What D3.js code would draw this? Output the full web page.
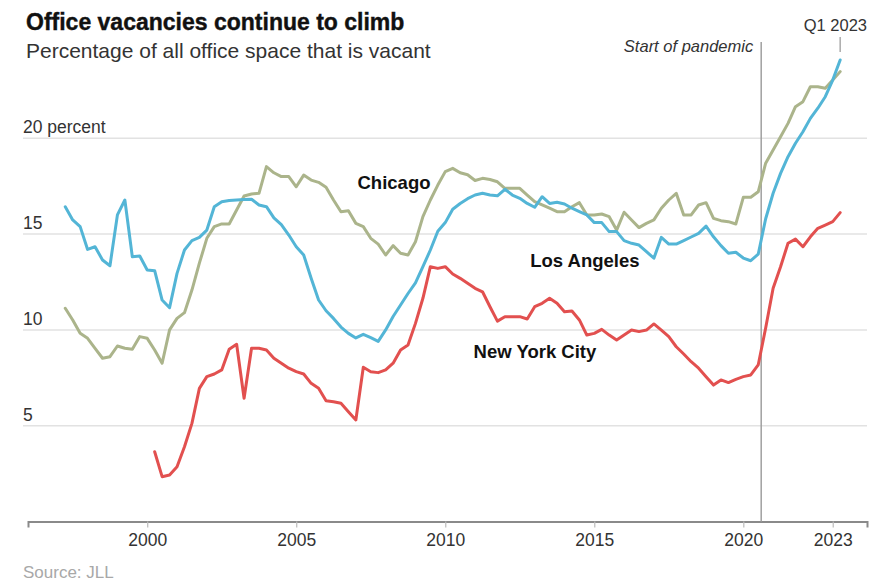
<!DOCTYPE html>
<html>
<head>
  <meta charset="UTF-8">
  <script src="https://cdn.jsdelivr.net/npm/d3@7"></script>
  <style>
    * { box-sizing: border-box; }
    html, body { margin: 0; padding: 0; background: #fff; }
    svg { display: block; font-family: "Liberation Sans", Arial, sans-serif; }
    .grid line { stroke: #e2e2e2; stroke-width: 1.5px; }
    .line { fill: none; stroke-width: 3px; stroke-linejoin: round; stroke-linecap: round; }
  </style>
</head>
<body>
<div id="root"></div>
<script>

  // quarterly vacancy rates, percent
  var startYear = 1997;

  var laVacancy = [
    16.43, 15.74, 15.39, 14.2,   // 1997
    14.34, 13.65, 13.35, 16.0,   // 1998
    16.78, 13.82, 13.86, 13.13,  // 1999
    13.09, 11.56, 11.16, 12.95,  // 2000
    14.17, 14.66, 14.83, 15.21,  // 2001
    16.43, 16.69, 16.75, 16.78,  // 2002
    16.8, 16.82, 16.52, 16.43,   // 2003
    15.85, 15.5, 14.95, 14.34,   // 2004
    13.91, 12.7, 11.56, 11.0,    // 2005
    10.6, 10.15, 9.82, 9.58,     // 2006
    9.77, 9.6, 9.4, 10.0,        // 2007
    10.7, 11.3, 11.9, 12.45,     // 2008
    13.3, 14.17, 15.15, 15.6,    // 2009
    16.3, 16.6, 16.85, 17.04,    // 2010
    17.13, 17.04, 17.0, 17.34,   // 2011
    17.04, 16.87, 16.6, 16.4,    // 2012
    16.95, 16.6, 16.66, 16.57,   // 2013
    16.35, 16.17, 16.0, 15.6,    // 2014
    15.6, 15.13, 15.13, 14.66,   // 2015
    14.52, 14.43, 14.08, 13.74,  // 2016
    14.83, 14.48, 14.48, 14.66,  // 2017
    14.85, 15.04, 15.42, 14.86,  // 2018
    14.4, 14.0, 14.05, 13.75,    // 2019
    13.61, 13.95, 15.8, 17.13,   // 2020
    18.17, 19.04, 19.74, 20.34,  // 2021
    21.04, 21.57, 22.17, 23.04,  // 2022
    24.09                        // 2023 Q1
  ];

  var chicagoVacancy = [
    11.13, 10.52, 9.82, 9.56,    // 1997
    9.04, 8.52, 8.6, 9.16,       // 1998
    9.04, 8.99, 9.65, 9.56,      // 1999
    8.95, 8.26, 10.0, 10.6,      // 2000
    10.9, 12.08, 13.48, 14.78,   // 2001
    15.39, 15.53, 15.53, 16.26,  // 2002
    16.99, 17.09, 17.13, 18.52,  // 2003
    18.2, 18.0, 18.0, 17.47,     // 2004
    18.08, 17.82, 17.7, 17.44,   // 2005
    16.78, 16.17, 16.22, 15.56,  // 2006
    15.39, 14.78, 14.48, 13.91,  // 2007
    14.4, 14.0, 13.91, 14.6,     // 2008
    15.91, 16.78, 17.56, 18.26,  // 2009
    18.43, 18.2, 18.1, 17.8,     // 2010
    17.91, 17.85, 17.73, 17.39,  // 2011
    17.39, 17.39, 17.04, 16.69,  // 2012
    16.52, 16.35, 16.17, 16.17,  // 2013
    16.43, 16.64, 16.0, 16.0,    // 2014
    16.05, 15.91, 15.21, 16.14,  // 2015
    15.74, 15.34, 15.56, 15.74,  // 2016
    16.35, 16.78, 17.13, 16.0,   // 2017
    16.0, 16.52, 16.64, 15.82,   // 2018
    15.7, 15.65, 15.53, 16.92,   // 2019
    16.92, 17.21, 18.7, 19.39,   // 2020
    20.08, 20.78, 21.65, 21.91,  // 2021
    22.69, 22.69, 22.61, 23.04,  // 2022
    23.48                        // 2023 Q1
  ];

  // NYC series starts in 2000 Q1
  var nycStartYear = 2000;
  var nycVacancy = [
    3.64, 2.34, 2.43, 2.86,      // 2000
    3.9, 5.12, 6.95, 7.56,       // 2001
    7.7, 7.91, 8.99, 9.25,       // 2002
    6.43, 9.04, 9.04, 8.95,      // 2003
    8.52, 8.26, 8.0, 7.82,       // 2004
    7.7, 7.21, 6.95, 6.3,        // 2005
    6.25, 6.17, 5.73, 5.3,       // 2006
    8.05, 7.82, 7.77, 7.91,      // 2007
    8.26, 8.95, 9.21, 10.34,     // 2008
    11.65, 13.3, 13.21, 13.3,    // 2009
    12.92, 12.69, 12.43, 12.17,  // 2010
    11.99, 11.21, 10.46, 10.69,  // 2011
    10.69, 10.69, 10.57, 11.21,  // 2012
    11.39, 11.65, 11.39, 10.95,  // 2013
    10.99, 10.52, 9.73, 9.82,    // 2014
    10.03, 9.73, 9.47, 9.73,     // 2015
    9.99, 9.91, 9.99, 10.31,     // 2016
    9.99, 9.65, 9.12, 8.74,      // 2017
    8.34, 8.0, 7.56, 7.12,       // 2018
    7.39, 7.25, 7.42, 7.56,      // 2019
    7.65, 8.17, 10.1, 12.17,     // 2020
    13.3, 14.52, 14.74, 14.34,   // 2021
    14.86, 15.3, 15.47, 15.65,   // 2022
    16.12                        // 2023 Q1
  ];

  var xTicks = [2000, 2005, 2010, 2015, 2020, 2023];
  var yTicks = [5, 10, 15, 20];
  var pandemicStart = 2020.6;
  var lastQuarter = 2023.25;

  var width = 883, height = 587;
  var colors = { la: "#53b5d6", chicago: "#abb48b", nyc: "#e2504f" };

  // turn a list of quarterly values into {t, v} points
  function toPoints(values, firstYear) {
    return values.map(function(v, i) {
      return { t: firstYear + (i + 1) / 4, v: v };
    });
  }

  var x = d3.scaleLinear().domain([1996, 2024.15]).range([28, 867]);
  var y = d3.scaleLinear().domain([0, 20]).range([521.5, 138.3]);

  var line = d3.line()
    .x(function(d) { return x(d.t); })
    .y(function(d) { return y(d.v); });

  var svg = d3.select("#root").append("svg")
    .attr("width", width)
    .attr("height", height);

  // title + subtitle
  svg.append("text")
    .attr("x", 26).attr("y", 30)
    .attr("font-size", 23).attr("font-weight", 700)
    .attr("fill", "#111")
    .attr("stroke", "#111").attr("stroke-width", 0.4)
    .text("Office vacancies continue to climb");
  svg.append("text")
    .attr("x", 26).attr("y", 58)
    .attr("font-size", 21)
    .attr("fill", "#333")
    .text("Percentage of all office space that is vacant");

  // horizontal gridlines with labels sitting on them
  var grid = svg.append("g").attr("class", "grid");
  grid.selectAll("line").data(yTicks).enter().append("line")
    .attr("x1", 23).attr("x2", 867)
    .attr("y1", function(d) { return y(d); })
    .attr("y2", function(d) { return y(d); });
  grid.selectAll("text").data(yTicks).enter().append("text")
    .attr("x", 23)
    .attr("y", function(d) { return y(d) - 5; })
    .attr("font-size", 17.5)
    .attr("fill", "#333")
    .text(function(d) { return d === 20 ? "20 percent" : d; });

  // x axis
  var xAxis = svg.append("g")
    .attr("transform", "translate(0," + y(0) + ")")
    .call(d3.axisBottom(x).tickValues(xTicks).tickFormat(d3.format("d")).tickSize(6).tickPadding(6));
  xAxis.select(".domain").attr("stroke", "#8a8a8a").attr("stroke-width", 2);
  xAxis.selectAll(".tick line").attr("stroke", "#bbb").attr("stroke-width", 1.2);
  xAxis.selectAll(".tick text")
    .attr("font-size", 17.5)
    .attr("font-family", "Liberation Sans, Arial, sans-serif")
    .attr("fill", "#333");

  // pandemic marker
  svg.append("line")
    .attr("x1", x(pandemicStart)).attr("x2", x(pandemicStart))
    .attr("y1", 42).attr("y2", y(0))
    .attr("stroke", "#a0a0a0").attr("stroke-width", 1.5);
  svg.append("text")
    .attr("x", x(pandemicStart) - 8).attr("y", 52)
    .attr("text-anchor", "end")
    .attr("font-size", 16.5).attr("font-style", "italic")
    .attr("fill", "#333")
    .text("Start of pandemic");

  // Q1 2023 marker
  svg.append("line")
    .attr("x1", x(lastQuarter)).attr("x2", x(lastQuarter))
    .attr("y1", 37).attr("y2", 52)
    .attr("stroke", "#aaa").attr("stroke-width", 1.5);
  svg.append("text")
    .attr("x", 867).attr("y", 31)
    .attr("text-anchor", "end")
    .attr("font-size", 16.5)
    .attr("fill", "#333")
    .text("Q1 2023");

  // series
  var series = [
    { name: "Chicago", values: toPoints(chicagoVacancy, startYear), color: colors.chicago },
    { name: "Los Angeles", values: toPoints(laVacancy, startYear), color: colors.la },
    { name: "New York City", values: toPoints(nycVacancy, nycStartYear), color: colors.nyc }
  ];

  svg.selectAll("path.line").data(series).enter().append("path")
    .attr("class", "line")
    .attr("stroke", function(d) { return d.color; })
    .attr("d", function(d) { return line(d.values); });

  // direct labels
  var labels = [
    { text: "Chicago", t: 2008.28, v: 17.35, anchor: "middle" },
    { text: "Los Angeles", t: 2012.85, v: 13.3, anchor: "start" },
    { text: "New York City", t: 2010.95, v: 8.53, anchor: "start" }
  ];
  svg.selectAll("text.label").data(labels).enter().append("text")
    .attr("class", "label")
    .attr("x", function(d) { return x(d.t); })
    .attr("y", function(d) { return y(d.v); })
    .attr("text-anchor", function(d) { return d.anchor; })
    .attr("font-size", 18.5).attr("font-weight", 700)
    .attr("fill", "#111")
    .attr("stroke", "#fff").attr("stroke-width", 3).attr("paint-order", "stroke")
    .text(function(d) { return d.text; });

  // source
  svg.append("text")
    .attr("x", 23).attr("y", 578)
    .attr("font-size", 17)
    .attr("fill", "#a8a8a8")
    .text("Source: JLL");

</script>
</body>
</html>
